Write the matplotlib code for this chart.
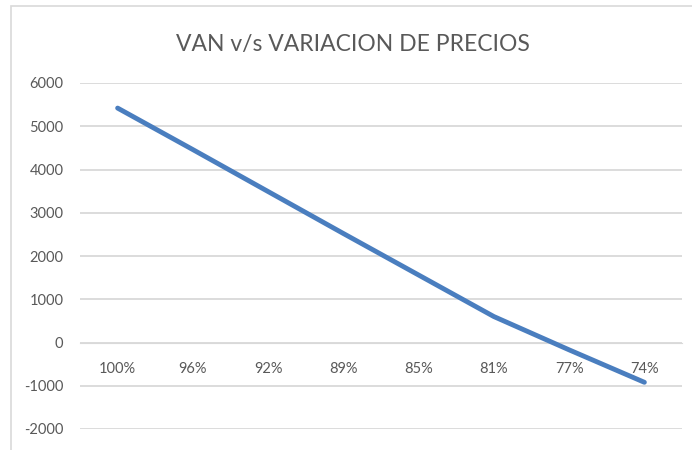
import matplotlib
matplotlib.use("Agg")
import matplotlib.pyplot as plt
from matplotlib.patches import Rectangle

plt.rcParams['font.family'] = ['Lato', 'DejaVu Sans']

categories = ["100%", "96%", "92%", "89%", "85%", "81%", "77%", "74%"]
van = [5420, 4460, 3490, 2520, 1560, 600, -170, -920]
yticks = [-2000, -1000, 0, 1000, 2000, 3000, 4000, 5000, 6000]

txt = "#595959"
grid = "#d9d9d9"

fig = plt.figure(figsize=(6.92, 4.5), dpi=100)
# chart border (cut by the image edges on right/bottom)
fig.patches.append(Rectangle((11/692, -0.1), 1.0, (450-6)/450 + 0.1, transform=fig.transFigure,
                             fill=False, edgecolor=grid, linewidth=1.2))
ax = fig.add_axes([80/692, 21/450, 602/692, 346/450])

x = list(range(len(categories)))
ax.plot(x, van, color="#4a7ebf", linewidth=3.5, solid_capstyle="round", zorder=3)

ax.set_xlim(-0.5, len(categories) - 0.5)
ax.set_ylim(-2000, 6000)
ax.set_yticks(yticks)
ax.set_yticklabels([str(v) for v in yticks])
for v in yticks:
    ax.axhline(v, color=grid, linewidth=1.3, zorder=1)

ax.set_xticks(x)
ax.set_xticklabels(categories)
ax.spines['bottom'].set_position(('data', 0))
ax.spines['bottom'].set_color(grid)
for s in ['top', 'right', 'left']:
    ax.spines[s].set_visible(False)
ax.tick_params(axis='x', length=0, pad=14, labelsize=10.5, labelcolor=txt)
ax.tick_params(axis='y', length=0, pad=12, labelsize=10.5, labelcolor=txt)

fig.text(353/692, 1 - 45/450, "VAN v/s VARIACION DE PRECIOS", ha="center", va="center",
         fontsize=16.5, color=txt)

fig.savefig("out.png", dpi=100)
